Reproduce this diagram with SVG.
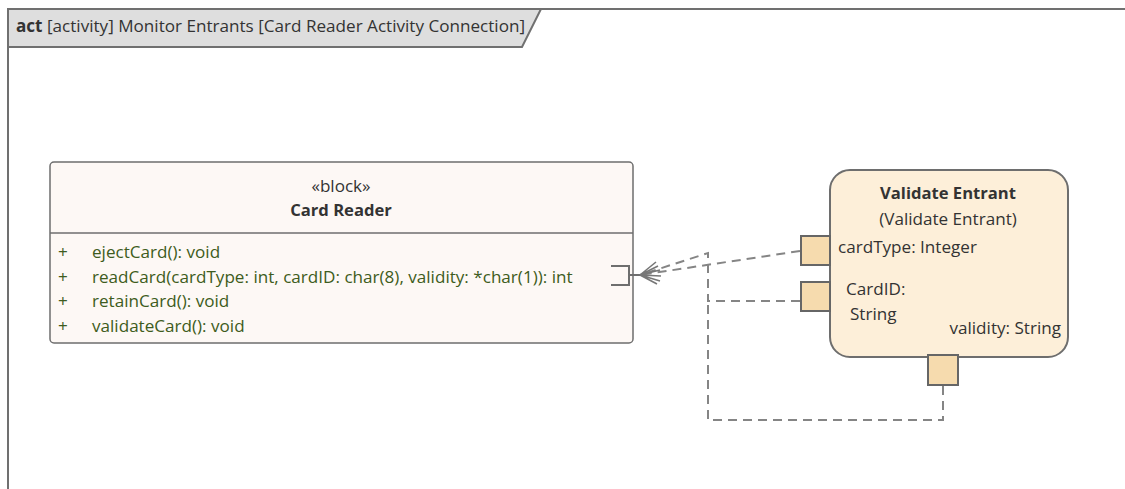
<svg xmlns="http://www.w3.org/2000/svg" width="1125" height="489" viewBox="0 0 1125 489">
<style>
  text { font-family: "Open Sans", "Noto Sans", sans-serif; font-size: 17.1px; fill: #333; }
  .b { font-weight: bold; }
  .t { font-size: 16.6px; }
  .op { fill: #3E5C20; }
  .dash { fill: none; stroke: #858585; stroke-width: 2; stroke-dasharray: 9 6; }
  .port { fill: #F6DBAE; stroke: #666; stroke-width: 2; }
  .solid { fill: none; stroke: #6E6E6E; stroke-width: 2; }
</style>
<rect width="1125" height="489" fill="#FFFFFF"/>
<g id="frame">
  <path d="M8,489 L8,9 L1125,9" fill="none" stroke="#707070" stroke-width="2"/>
  <path d="M8,9 L541,9 L522,47 L8,47 Z" fill="#DEDEDE" stroke="#707070" stroke-width="2"/>
  <text x="16" y="32"><tspan class="b">act</tspan> [activity] Monitor Entrants [Card Reader Activity Connection]</text>
</g>
<g id="card-reader">
  <rect x="50" y="162" width="583" height="181" rx="4" fill="#FDF8F5" stroke="#6E6E6E" stroke-width="1.5"/>
  <line x1="50" y1="233" x2="633" y2="233" stroke="#6E6E6E" stroke-width="1.5"/>
  <text x="341" y="192" text-anchor="middle">«block»</text>
  <text x="341" y="216" text-anchor="middle" class="b t">Card Reader</text>
  <g class="op">
    <text x="58" y="258" class="op">+</text><text x="92" y="258" class="op">ejectCard(): void</text>
    <text x="58" y="283" class="op">+</text><text x="92" y="283" class="op">readCard(cardType: int, cardID: char(8), validity: *char(1)): int</text>
    <text x="58" y="307" class="op">+</text><text x="92" y="307" class="op">retainCard(): void</text>
    <text x="58" y="332" class="op">+</text><text x="92" y="332" class="op">validateCard(): void</text>
  </g>
  <path class="solid" d="M611,266 L629,266 L629,285 L611,285 M629,275 L640,275"/>
</g>
<g id="validate-entrant">
  <rect x="830" y="170" width="238" height="187" rx="20" fill="#FDEFD9" stroke="#6E6E6E" stroke-width="2"/>
  <text x="948" y="199" text-anchor="middle" class="b t">Validate Entrant</text>
  <text x="948" y="225" text-anchor="middle">(Validate Entrant)</text>
  <rect class="port" x="801" y="236" width="29" height="29"/>
  <rect class="port" x="801" y="282" width="29" height="29"/>
  <rect class="port" x="928" y="355" width="30" height="30"/>
  <text x="838" y="253">cardType: Integer</text>
  <text x="846" y="295">CardID:</text>
  <text x="850" y="320">String</text>
  <text x="1061" y="334" text-anchor="end">validity: String</text>
</g>
<g id="connectors">
  <path class="dash" d="M800,251 L640,275"/>
  <path class="dash" d="M800,301 L708,301 L708,253 L640,275"/>
  <path class="dash" d="M943,386 L943,420 L708,420 L708,301"/>
  <path fill="none" stroke="#777" stroke-width="1.6" d="M640,275 L656,262 M640,275 L658,266 M640,275 L660,270 M640,275 L661,276 M640,275 L660,281 M640,275 L657,284"/>
</g>
</svg>
